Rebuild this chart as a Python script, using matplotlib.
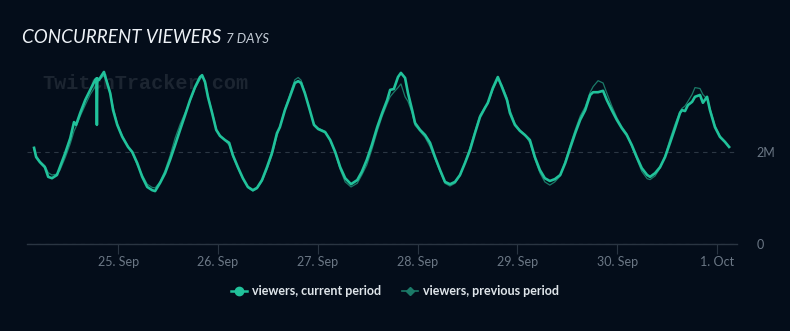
import matplotlib
matplotlib.use("Agg")
import matplotlib.pyplot as plt
from matplotlib.lines import Line2D
import numpy as np
import datetime as dt

# ---------------- data ----------------
start_day = dt.datetime(2023, 9, 24)
hours = [3.8, 4.3, 5.2, 6.4, 7.2, 8.1, 9.3, 10.0, 11.3, 12.5, 13.4, 13.9, 14.9, 16.1, 17.3,
         18.5, 18.8, 18.9, 19.0, 19.4, 20.1, 20.6, 21.3, 22.1, 22.8, 23.8, 25.0, 26.4, 27.4,
         28.6, 29.8, 31.0, 32.2, 32.9, 34.1, 35.3, 36.5, 37.7, 38.9, 40.1, 41.3, 42.5, 43.7,
         44.2, 44.9, 45.6, 46.6, 47.6, 48.5, 49.7, 50.7, 51.6, 52.8, 54.0, 55.2, 56.4, 57.4,
         58.6, 59.8, 61.0, 62.2, 62.9, 64.1, 65.3, 66.5, 67.3, 68.0, 68.9, 70.1, 71.1, 72.1,
         73.8, 75.0, 76.2, 77.4, 78.6, 80.0, 81.5, 82.6, 83.8, 85.0, 86.3, 87.5, 88.7, 89.4,
         90.3, 91.3, 92.0, 93.0, 93.7, 94.7, 95.4, 96.6, 97.8, 99.0, 100.2, 101.4, 102.6,
         103.8, 105.0, 106.2, 107.4, 108.6, 109.8, 111.0, 112.2, 112.9, 114.1, 115.3, 116.3,
         117.5, 118.2, 119.4, 120.6, 121.8, 123.0, 124.2, 125.4, 126.6, 127.8, 129.0, 130.3,
         131.5, 132.7, 133.9, 135.1, 136.3, 137.5, 138.2, 139.4, 140.6, 141.5, 142.7, 143.9,
         145.1, 146.3, 147.5, 148.7, 149.9, 151.2, 151.9, 153.1, 154.3, 155.5, 156.7, 157.9,
         159.1, 159.6, 160.3, 161.0, 162.0, 162.7, 163.9, 164.6, 165.6, 166.3, 167.5, 168.7,
         169.9, 170.9]

current_m = [2.09, 1.89, 1.78, 1.67, 1.46, 1.43, 1.50, 1.67, 1.98, 2.30, 2.65, 2.59, 2.85, 3.13, 3.35,
             3.57, 3.60, 2.59, 3.60, 3.57, 3.67, 3.74, 3.52, 3.28, 2.91, 2.59, 2.33, 2.11, 2.00,
             1.76, 1.46, 1.24, 1.17, 1.15, 1.33, 1.54, 1.83, 2.15, 2.48, 2.80, 3.13, 3.41, 3.63,
             3.67, 3.52, 3.20, 2.85, 2.48, 2.35, 2.26, 2.20, 1.93, 1.67, 1.43, 1.24, 1.17, 1.22,
             1.39, 1.67, 1.98, 2.41, 2.54, 2.91, 3.20, 3.50, 3.54, 3.50, 3.28, 2.91, 2.59, 2.50,
             2.43, 2.26, 2.00, 1.67, 1.43, 1.30, 1.39, 1.57, 1.83, 2.15, 2.54, 2.85, 3.13, 3.35,
             3.37, 3.63, 3.72, 3.61, 3.28, 2.91, 2.63, 2.48, 2.37, 2.20, 1.89, 1.61, 1.35,
             1.30, 1.35, 1.50, 1.76, 2.04, 2.41, 2.76, 2.96, 3.07, 3.39, 3.63, 3.41,
             3.13, 2.85, 2.59, 2.46, 2.37, 2.26, 1.89, 1.61, 1.43, 1.37, 1.41, 1.50,
             1.76, 2.09, 2.41, 2.70, 2.91, 3.24, 3.30, 3.30, 3.33, 3.13, 2.91, 2.70,
             2.52, 2.37, 2.15, 1.89, 1.65, 1.50, 1.46, 1.54, 1.67, 1.89, 2.20, 2.52,
             2.85, 2.91, 2.89, 3.02, 3.09, 3.20, 3.24, 3.07, 3.20, 2.91, 2.54, 2.33,
             2.22, 2.11]

previous_m = [2.05, 1.92, 1.80, 1.70, 1.55, 1.50, 1.52, 1.60, 1.88, 2.18, 2.45, 2.55, 2.78, 3.02, 3.25,
              3.42, 3.45, 3.47, 3.50, 3.55, 3.62, 3.66, 3.55, 3.30, 2.98, 2.62, 2.36, 2.12, 1.98,
              1.72, 1.50, 1.30, 1.23, 1.22, 1.35, 1.60, 1.92, 2.30, 2.60, 2.85, 3.10, 3.38, 3.58,
              3.64, 3.55, 3.22, 2.88, 2.50, 2.36, 2.25, 2.15, 1.90, 1.65, 1.42, 1.23, 1.15, 1.20,
              1.36, 1.62, 1.93, 2.35, 2.55, 2.93, 3.25, 3.57, 3.62, 3.56, 3.30, 2.90, 2.60, 2.52,
              2.45, 2.25, 1.98, 1.62, 1.35, 1.24, 1.32, 1.50, 1.72, 2.05, 2.45, 2.78, 3.05, 3.20,
              3.30, 3.40, 3.48, 3.20, 3.10, 2.85, 2.58, 2.45, 2.32, 2.12, 1.85, 1.58, 1.32,
              1.26, 1.32, 1.48, 1.78, 2.10, 2.45, 2.80, 2.98, 3.05, 3.35, 3.58, 3.45,
              3.18, 2.92, 2.62, 2.48, 2.38, 2.20, 1.85, 1.55, 1.35, 1.28, 1.35, 1.48,
              1.80, 2.15, 2.48, 2.78, 2.98, 3.30, 3.42, 3.55, 3.50, 3.28, 3.00, 2.75,
              2.55, 2.40, 2.12, 1.85, 1.58, 1.42, 1.40, 1.48, 1.65, 1.92, 2.28, 2.60,
              2.88, 2.95, 3.00, 3.10, 3.25, 3.40, 3.38, 3.25, 3.15, 2.95, 2.58, 2.35,
              2.22, 2.11]

tick_days = [dt.datetime(2023, 9, d) for d in range(25, 31)] + [dt.datetime(2023, 10, 1)]
tick_labels = ["25. Sep", "26. Sep", "27. Sep", "28. Sep", "29. Sep", "30. Sep", "1. Oct"]
y_ticks_m = [0, 2]
y_tick_labels = ["0", "2M"]

# ---------------- style ----------------
BG = "#040d1a"
CUR = "#21c29b"
PREV = "#1b7a68"
AXIS = "#2a3542"
TICKTXT = "#6b7785"
FONT = ["Lato", "DejaVu Sans"]

times = [start_day + dt.timedelta(hours=h) for h in hours]
cur = np.array(current_m) * 1e6
prev = np.array(previous_m) * 1e6

fig = plt.figure(figsize=(7.9, 3.31), dpi=100, facecolor=BG)
ax = fig.add_axes([27 / 790, 1 - 244 / 331, 710 / 790, 184 / 331], facecolor=BG)

ax.plot(times, prev, color=PREV, lw=0.9, zorder=3)
ax.plot(times, cur, color=CUR, lw=1.9, zorder=4)

ax.set_ylim(0, 4e6)
ax.set_xlim(start_day + dt.timedelta(hours=2.1), start_day + dt.timedelta(hours=172.8))

for s in ["top", "left", "right"]:
    ax.spines[s].set_visible(False)
ax.spines["bottom"].set_color(AXIS)
ax.spines["bottom"].set_linewidth(1.0)

ax.set_xticks(tick_days)
ax.set_xticklabels(tick_labels, fontfamily=FONT, fontsize=9, color=TICKTXT)
ax.tick_params(axis="x", length=7, width=0.8, color=AXIS, pad=2)

ax.yaxis.tick_right()
ax.set_yticks([v * 1e6 for v in y_ticks_m])
ax.set_yticklabels(y_tick_labels, fontfamily=FONT, fontsize=9, color=TICKTXT)
ax.tick_params(axis="y", length=0, pad=14)
ax.yaxis.grid(True, color="#2c3744", lw=0.8, linestyle=(0, (4, 4)))
ax.set_axisbelow(True)

# watermark
ax.text(0.021, 0.872, "TwitchTracker.com", transform=ax.transAxes,
        fontfamily=["Liberation Mono", "DejaVu Sans Mono"], fontweight="bold",
        fontsize=14.5, color="#1c2531", va="center", ha="left", zorder=1)

# title
fig.text(22 / 790, 1 - 43 / 331, "CONCURRENT VIEWERS", fontfamily=FONT,
         fontstyle="italic", fontsize=13.5, color="#eef2f7", va="baseline", ha="left")
fig.text(226 / 790, 1 - 43 / 331, "7 DAYS", fontfamily=FONT,
         fontstyle="italic", fontsize=9.5, color="#c3cbd5", va="baseline", ha="left")

handles = [
    Line2D([], [], color=CUR, lw=1.8, marker="o", markersize=6, label="viewers, current period"),
    Line2D([], [], color=PREV, lw=1.2, marker="D", markersize=4, label="viewers, previous period"),
]
leg = fig.legend(handles=handles, loc="center", bbox_to_anchor=(0.5, 1 - 291 / 331), ncol=2,
                 frameon=False, handlelength=1.3, handletextpad=0.4, columnspacing=1.6,
                 prop={"family": FONT, "size": 9, "weight": "bold"})
for t in leg.get_texts():
    t.set_color("#dfe5ea")

fig.savefig("out.png", dpi=100, facecolor=BG)
